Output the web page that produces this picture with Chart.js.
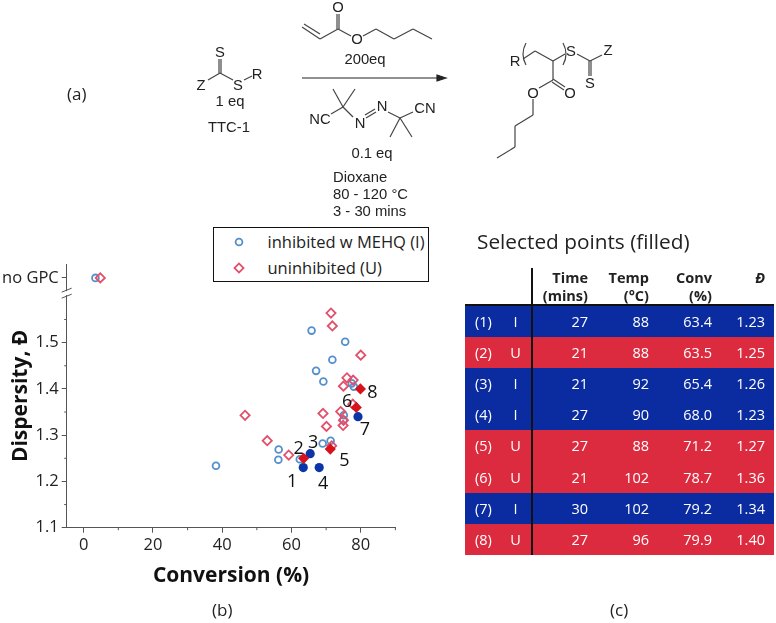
<!DOCTYPE html>
<html>
<head>
<meta charset="utf-8">
<title>Dispersity vs conversion</title>
<script src="https://cdn.jsdelivr.net/npm/chart.js@4/dist/chart.umd.min.js"></script>
<style>
html, body { margin: 0; padding: 0; background: #fff; }
#page { position: relative; width: 776px; height: 623px; overflow: hidden; font-family: "Open Sans", sans-serif; color: #222; }
#plot { position: absolute; left: 0; top: 0; }
#scheme { position: absolute; left: 0; top: 0; }
#scheme line, #scheme path { stroke: #444; stroke-width: 1.2; fill: none; }
#scheme text { font-family: "Liberation Sans", sans-serif; font-size: 14.8px; fill: #222; text-anchor: middle; }
.cap { position: absolute; font-size: 17px; line-height: 20px; }
#legend { position: absolute; left: 213px; top: 227px; width: 214px; height: 53px; border: 1.5px solid #111; background: #fff; font-size: 16.5px; }
#legend div { position: absolute; left: 53.5px; white-space: nowrap; line-height: 20px; }
#legend svg { position: absolute; }
#tableTitle { position: absolute; left: 477px; top: 228px; font-size: 20.8px; line-height: 26px; white-space: nowrap; }
#selected { position: absolute; left: 465px; top: 268px; width: 309px; border-collapse: collapse; table-layout: fixed; font-size: 14.5px; }
#selected th { font-weight: 700; line-height: 18px; height: 36px; padding: 0 2px 0 0; text-align: right; vertical-align: bottom; border-bottom: 2px solid #111; color: #222; white-space: nowrap; }
#selected th span { position: relative; top: 1px; }
#selected td { height: 31.1px; padding: 0 2px 0 0; text-align: right; color: #fff; }
#selected tr.I td { background: #0a2ca0; }
#selected tr.U td { background: #dc2b3e; }
#selected td:first-child { text-align: left; padding-left: 10px; }
#selected td:nth-child(2) { text-align: center; padding: 0; }
#selected td:nth-child(3), #selected th:nth-child(3) { border-left: 2px solid #111; }
#selected td:last-child, #selected th:last-child { padding-right: 9px; }
</style>
</head>
<body>
<div id="page">
  <canvas id="plot" width="776" height="623"></canvas>

  <svg id="scheme" width="776" height="226">
    <!-- TTC-1 -->
    <line x1="219" y1="59" x2="219" y2="73"/><line x1="221" y1="59" x2="221" y2="73"/>
    <line x1="208" y1="80" x2="220" y2="73"/><line x1="220" y1="73" x2="233" y2="80"/><line x1="244" y1="80" x2="252" y2="76"/>
    <text x="220" y="57">S</text><text x="201" y="90">Z</text><text x="238" y="90">S</text><text x="257" y="79">R</text>
    <text x="230" y="106">1 eq</text><text x="229" y="132">TTC-1</text>
    <!-- butyl acrylate -->
    <line x1="302" y1="27" x2="320" y2="39"/><line x1="304" y1="24" x2="320" y2="34"/>
    <line x1="320" y1="39" x2="338" y2="29"/>
    <line x1="337" y1="29" x2="337" y2="14"/><line x1="339" y1="29" x2="339" y2="14"/>
    <line x1="338" y1="29" x2="351" y2="36"/><line x1="363" y1="36" x2="376" y2="29"/>
    <line x1="376" y1="29" x2="394" y2="39"/><line x1="394" y1="39" x2="413" y2="29"/><line x1="413" y1="29" x2="432" y2="39"/>
    <text x="338" y="12">O</text><text x="357" y="44">O</text><text x="365" y="64">200eq</text>
    <!-- arrow -->
    <line x1="302" y1="78" x2="440" y2="78" style="stroke:#222"/>
    <path d="M446 78 L437 75 L437 81 Z" style="fill:#222;stroke:#222"/>
    <!-- AIBN -->
    <line x1="331" y1="114" x2="343" y2="107"/><line x1="333" y1="89" x2="343" y2="107"/><line x1="355" y1="89" x2="343" y2="107"/>
    <line x1="343" y1="107" x2="353" y2="117"/><line x1="365" y1="115" x2="375" y2="109"/><line x1="366" y1="118" x2="376" y2="112"/>
    <line x1="388" y1="112" x2="400" y2="118"/><line x1="400" y1="118" x2="413" y2="112"/>
    <line x1="400" y1="118" x2="390" y2="137"/><line x1="400" y1="118" x2="412" y2="137"/>
    <text x="320" y="124">NC</text><text x="360" y="128">N</text><text x="382" y="111">N</text><text x="425" y="113">CN</text>
    <text x="372" y="158">0.1 eq</text>
    <text x="333" y="182" style="text-anchor:start">Dioxane</text>
    <text x="333" y="199" style="text-anchor:start">80 - 120 °C</text>
    <text x="333" y="216" style="text-anchor:start">3 - 30 mins</text>
    <!-- product -->
    <text x="515" y="66">R</text><text x="571" y="56">S</text><text x="608" y="55">Z</text><text x="590" y="88">S</text><text x="570" y="98">O</text><text x="533" y="98">O</text>
    <path d="M526 43 Q520 54 526 65"/><path d="M563 43 Q569 54 563 65"/>
    <line x1="523" y1="59" x2="535" y2="51"/><line x1="535" y1="51" x2="553" y2="61"/><line x1="553" y1="61" x2="565" y2="54"/>
    <line x1="577" y1="54" x2="590" y2="61"/><line x1="590" y1="61" x2="602" y2="55"/>
    <line x1="589" y1="61" x2="589" y2="76"/><line x1="591" y1="61" x2="591" y2="76"/>
    <line x1="553" y1="61" x2="553" y2="80"/>
    <line x1="553" y1="79" x2="565" y2="87"/><line x1="552" y1="82" x2="564" y2="90"/>
    <line x1="553" y1="80" x2="539" y2="88"/>
    <line x1="533" y1="99" x2="533" y2="115"/><line x1="533" y1="115" x2="515" y2="126"/><line x1="515" y1="126" x2="515" y2="147"/><line x1="515" y1="147" x2="497" y2="158"/>
  </svg>

  <div class="cap" style="left:67px;top:84px">(a)</div>
  <div class="cap" style="left:212px;top:600px">(b)</div>
  <div class="cap" style="left:610px;top:600px">(c)</div>

  <div id="legend"></div>
  <div id="tableTitle">Selected points (filled)</div>
  <table id="selected"></table>
</div>

<script>
// open points. 1.64 is where the "no GPC" row sits above the axis break
const inhibitedConv = [3.4, 38.2, 56.3, 56.2, 62.4, 65.8, 67.1, 69.2, 71.8, 75.5, 69.0, 71.3, 75.1, 77.4, 78.0, 75.0];
const inhibitedDisp = [1.64, 1.234, 1.269, 1.247, 1.248, 1.526, 1.439, 1.416, 1.463, 1.502, 1.282, 1.288, 1.343, 1.412, 1.405, 1.333];
const uninhibitedConv = [4.8, 46.6, 53.0, 59.2, 71.4, 71.8, 80.0, 76.0, 77.8, 75.0, 69.1, 74.2, 70.1, 74.9, 75.0, 71.6, 77.7];
const uninhibitedDisp = [1.64, 1.343, 1.288, 1.257, 1.564, 1.536, 1.473, 1.424, 1.419, 1.406, 1.347, 1.351, 1.319, 1.321, 1.332, 1.277, 1.367];

// selected points table, also the filled markers
const selNumber = [1, 2, 3, 4, 5, 6, 7, 8];
const selType = ['I', 'U', 'I', 'I', 'U', 'U', 'I', 'U'];
const selTime = [27, 21, 21, 27, 27, 21, 30, 27];
const selTemp = [88, 88, 92, 90, 88, 102, 102, 96];
const selConv = ['63.4', '63.5', '65.4', '68.0', '71.2', '78.7', '79.2', '79.9'];
const selDisp = ['1.23', '1.25', '1.26', '1.23', '1.27', '1.36', '1.34', '1.40'];

const xTicks = [0, 20, 40, 60, 80];
const xMinorTicks = [10, 30, 50, 70, 90];
const yTicks = [1.1, 1.2, 1.3, 1.4, 1.5, 1.64];
const yMinorTicks = [1.15, 1.25, 1.35, 1.45, 1.55];
const noGpcValue = 1.64;

const AXIS = '#555';
const BLUE_OPEN = '#5590cc';
const RED_OPEN = '#e2506a';
const BLUE_FILL = '#0a34a8';
const RED_FILL = '#d6121c';

// where the 1-8 labels sit relative to their point
const labelDx = [-11, -5, 3, 4, 14, -9, 7, 12];
const labelDy = [14, -9, -11, 16, 12, -6, 13, 4];

function pairs(xs, ys) {
    return xs.map((x, i) => ({ x: x, y: ys[i] }));
}
function selected(type) {
    const pts = [];
    selType.forEach((t, i) => {
        if (t === type) pts.push({ x: parseFloat(selConv[i]), y: parseFloat(selDisp[i]) });
    });
    return pts;
}

// short minor ticks, the axis break and the numbers next to the filled points
const extras = {
    id: 'extras',
    afterDraw(chart) {
        const ctx = chart.ctx;
        const xs = chart.scales.x;
        const ys = chart.scales.y;
        ctx.save();
        ctx.strokeStyle = AXIS;
        ctx.lineWidth = 1;
        ctx.beginPath();
        xMinorTicks.forEach(v => {
            const px = xs.getPixelForValue(v);
            ctx.moveTo(px, ys.bottom);
            ctx.lineTo(px, ys.bottom + 2.5);
        });
        yMinorTicks.forEach(v => {
            const py = ys.getPixelForValue(v);
            ctx.moveTo(xs.left, py);
            ctx.lineTo(xs.left - 2.5, py);
        });
        ctx.stroke();

        // break between the no GPC row and the numeric part of the axis
        const breakY = ys.getPixelForValue(1.607);
        ctx.fillStyle = '#fff';
        ctx.fillRect(xs.left - 2, breakY - 2, 4, 4);
        ctx.beginPath();
        ctx.moveTo(xs.left - 5, breakY - 1); ctx.lineTo(xs.left + 5, breakY - 5);
        ctx.moveTo(xs.left - 5, breakY + 5); ctx.lineTo(xs.left + 5, breakY + 1);
        ctx.stroke();

        ctx.fillStyle = '#111';
        ctx.font = '18px "Open Sans"';
        ctx.textAlign = 'center';
        ctx.textBaseline = 'middle';
        selNumber.forEach((n, i) => {
            const px = xs.getPixelForValue(parseFloat(selConv[i]));
            const py = ys.getPixelForValue(parseFloat(selDisp[i]));
            ctx.fillText(String(n), px + labelDx[i], py + labelDy[i]);
        });
        ctx.restore();
    }
};

const tickFont = { family: 'Open Sans', size: 16.5 };

const chart = new Chart(document.getElementById('plot'), {
    type: 'scatter',
    plugins: [extras],
    data: {
        datasets: [
            { label: 'inhibited w MEHQ (I)', data: pairs(inhibitedConv, inhibitedDisp), pointStyle: 'circle', pointRadius: 3.4, pointBorderWidth: 1.8, pointBorderColor: BLUE_OPEN, pointBackgroundColor: 'transparent', order: 4 },
            { label: 'uninhibited (U)', data: pairs(uninhibitedConv, uninhibitedDisp), pointStyle: 'rectRot', pointRadius: 4.6, pointBorderWidth: 1.8, pointBorderColor: RED_OPEN, pointBackgroundColor: 'transparent', order: 3 },
            { label: 'selected (I)', data: selected('I'), pointStyle: 'circle', pointRadius: 4.6, pointBorderWidth: 0, pointBackgroundColor: BLUE_FILL, order: 2 },
            { label: 'selected (U)', data: selected('U'), pointStyle: 'rectRot', pointRadius: 5.6, pointBorderWidth: 0, pointBackgroundColor: RED_FILL, order: 1 }
        ]
    },
    options: {
        responsive: false,
        animation: false,
        layout: { padding: { left: 0, right: 380.6, top: 264, bottom: 34 } },
        plugins: { legend: { display: false }, tooltip: { enabled: false } },
        scales: {
            x: {
                type: 'linear',
                min: -4.9,
                max: 90,
                afterBuildTicks: axis => { axis.ticks = xTicks.map(v => ({ value: v })); },
                afterFit: axis => { axis.height = 61.3; },
                border: { color: AXIS, width: 1 },
                grid: { drawOnChartArea: false, tickLength: 5, tickColor: AXIS },
                ticks: { font: tickFont, color: '#222', padding: 3, maxRotation: 0, autoSkip: false },
                title: { display: true, text: 'Conversion (%)', color: '#111', padding: 0, font: { family: 'Open Sans', size: 21, weight: 'bold' } }
            },
            y: {
                type: 'linear',
                min: 1.1,
                max: 1.67,
                afterBuildTicks: axis => { axis.ticks = yTicks.map(v => ({ value: v })); },
                afterFit: axis => { axis.width = 66.7; },
                border: { color: AXIS, width: 1 },
                grid: { drawOnChartArea: false, tickLength: 5, tickColor: AXIS },
                ticks: {
                    font: tickFont,
                    color: '#222',
                    padding: 3,
                    autoSkip: false,
                    callback: v => (v === noGpcValue ? 'no GPC' : v.toFixed(1))
                },
                title: { display: true, text: 'Dispersity, Đ', color: '#111', padding: { top: 8, bottom: 0 }, font: { family: 'Open Sans', size: 21, weight: 'bold' } }
            }
        }
    }
});

// legend box, first two datasets only
const legendBox = document.getElementById('legend');
chart.data.datasets.slice(0, 2).forEach((ds, i) => {
    const top = 4 + i * 26;
    const mark = i === 0
        ? `<circle cx="8" cy="8" r="3.4" fill="none" stroke="${ds.pointBorderColor}" stroke-width="1.8"/>`
        : `<rect x="4.8" y="4.8" width="6.4" height="6.4" fill="none" stroke="${ds.pointBorderColor}" stroke-width="1.8" transform="rotate(45 8 8)"/>`;
    legendBox.innerHTML += `<svg width="16" height="16" style="left:17px;top:${top + 2}px">${mark}</svg><div style="top:${top}px">${ds.label}</div>`;
});

// table (c)
let rows = '<colgroup><col style="width:35px"><col style="width:32px"><col style="width:58px"><col style="width:61px"><col style="width:63px"><col style="width:60px"></colgroup>';
rows += '<tr><th></th><th></th><th><span>Time<br>(mins)</span></th><th><span>Temp<br>(°C)</span></th><th><span>Conv<br>(%)</span></th><th><span><i>Đ</i><br>&nbsp;</span></th></tr>';
selNumber.forEach((n, i) => {
    rows += `<tr class="${selType[i]}"><td>(${n})</td><td>${selType[i]}</td><td>${selTime[i]}</td><td>${selTemp[i]}</td><td>${selConv[i]}</td><td>${selDisp[i]}</td></tr>`;
});
document.getElementById('selected').innerHTML = rows;
</script>
</body>
</html>
